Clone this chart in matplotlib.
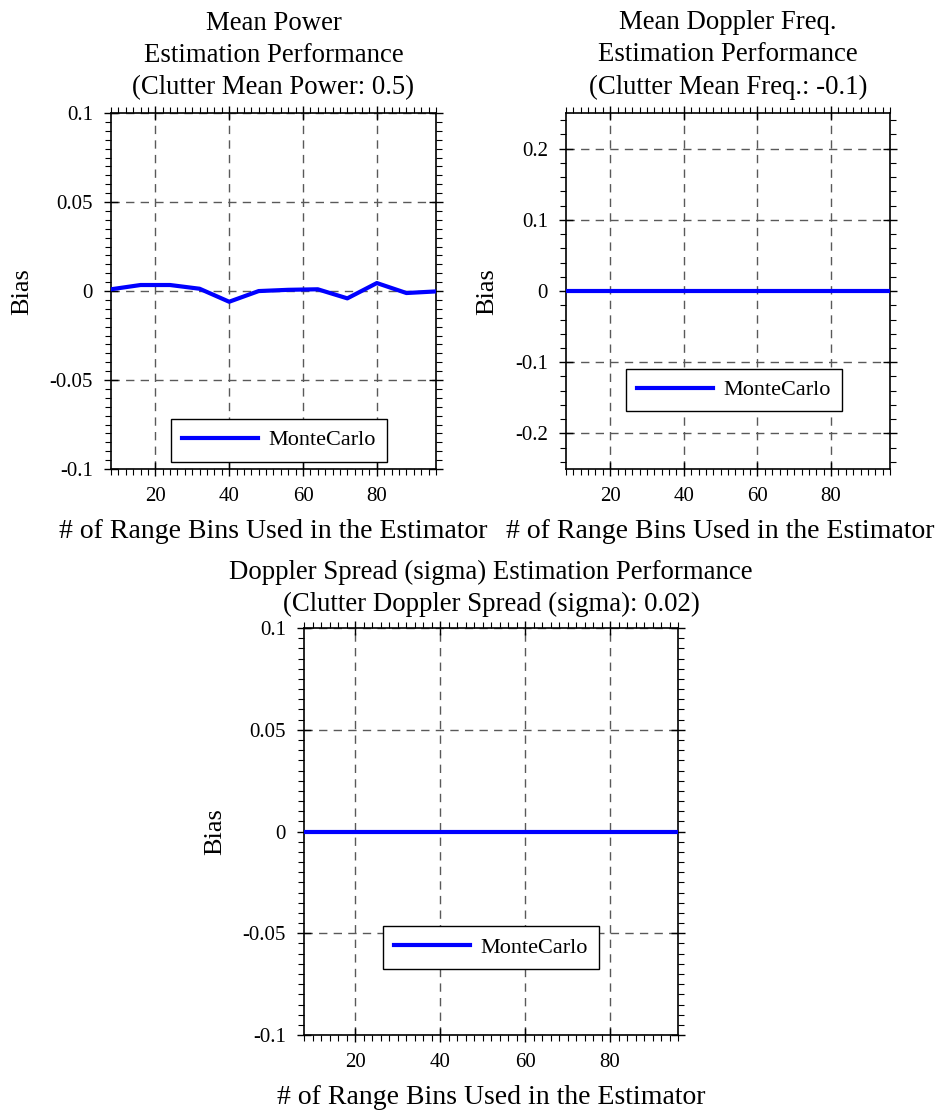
import matplotlib.pyplot as plt
from matplotlib.ticker import MultipleLocator

plt.rcParams['font.family'] = ['Liberation Serif', 'DejaVu Serif']
plt.rcParams['lines.scale_dashes'] = False

# number of range bins used in the estimator
bins = [8, 16, 24, 32, 40, 48, 56, 64, 72, 80, 88, 96]

# bias of the Monte Carlo estimates
power_bias = [0.001, 0.0034, 0.0034, 0.0013, -0.006, 0.0, 0.0007, 0.001,
              -0.0041, 0.0045, -0.0011, -0.0002]
freq_bias = [0.0] * len(bins)
spread_bias = [0.0] * len(bins)

x_ticks = [20, 40, 60, 80]
y_ticks_small = [-0.1, -0.05, 0, 0.05, 0.1]
y_labels_small = ['-0.1', '-0.05', '0', '0.05', '0.1']
y_ticks_freq = [-0.2, -0.1, 0, 0.1, 0.2]
y_labels_freq = ['-0.2', '-0.1', '0', '0.1', '0.2']

fig = plt.figure(figsize=(9.43, 11.12), dpi=100)

ax1 = fig.add_axes([0.1177, 0.5782, 0.3446, 0.3201])
ax2 = fig.add_axes([0.6002, 0.5782, 0.3436, 0.3201])
ax3 = fig.add_axes([0.3224, 0.0692, 0.3966, 0.3660])


def setup(ax, y, ylim, yticks, ylabels, yminor, title, legend_pos,
          title_pad, title_ls):
    ax.plot(bins, y, color='#0000ff', lw=3, label='MonteCarlo', zorder=3)
    ax.set_xlim(8, 96)
    ax.set_ylim(*ylim)
    ax.set_xticks(x_ticks)
    ax.set_yticks(yticks, ylabels)
    ax.xaxis.set_minor_locator(MultipleLocator(2))
    ax.yaxis.set_minor_locator(MultipleLocator(yminor))
    ax.tick_params(which='major', direction='inout', length=10, width=1,
                   top=True, right=True, labelsize=15, pad=8)
    ax.tick_params(which='minor', direction='out', length=4, width=0.8,
                   top=True, right=True)
    ax.grid(True, which='major', color='0.35', lw=1, linestyle=(0, (6, 4.5)))
    for s in ax.spines.values():
        s.set_linewidth(1.2)
    ax.set_ylabel('Bias', fontsize=19, labelpad=12)
    ax.set_xlabel('# of Range Bins Used in the Estimator', fontsize=20, labelpad=9)
    ax.set_title(title, fontsize=19.3, pad=title_pad, linespacing=title_ls)
    leg = ax.legend(loc='center', bbox_to_anchor=legend_pos, fontsize=16,
                    fancybox=False, framealpha=1, edgecolor='black',
                    handlelength=3.4, borderpad=0.5, handletextpad=0.5)
    leg.get_frame().set_linewidth(1)


setup(ax1, power_bias, (-0.1, 0.1), y_ticks_small, y_labels_small, 0.005,
      'Mean Power\nEstimation Performance\n(Clutter Mean Power: 0.5)',
      (0.517, 0.081), 14, 1.37)
setup(ax2, freq_bias, (-0.25, 0.25), y_ticks_freq, y_labels_freq, 0.02,
      'Mean Doppler Freq.\nEstimation Performance\n(Clutter Mean Freq.: -0.1)',
      (0.519, 0.222), 14, 1.37)
setup(ax3, spread_bias, (-0.1, 0.1), y_ticks_small, y_labels_small, 0.005,
      'Doppler Spread (sigma) Estimation Performance\n(Clutter Doppler Spread (sigma): 0.02)',
      (0.5, 0.215), 12, 1.4)

# the right-hand x label sits a little left so it stays inside the figure
ax2.xaxis.set_label_coords(0.475, -0.141)

fig.savefig('out.png', dpi=100)
